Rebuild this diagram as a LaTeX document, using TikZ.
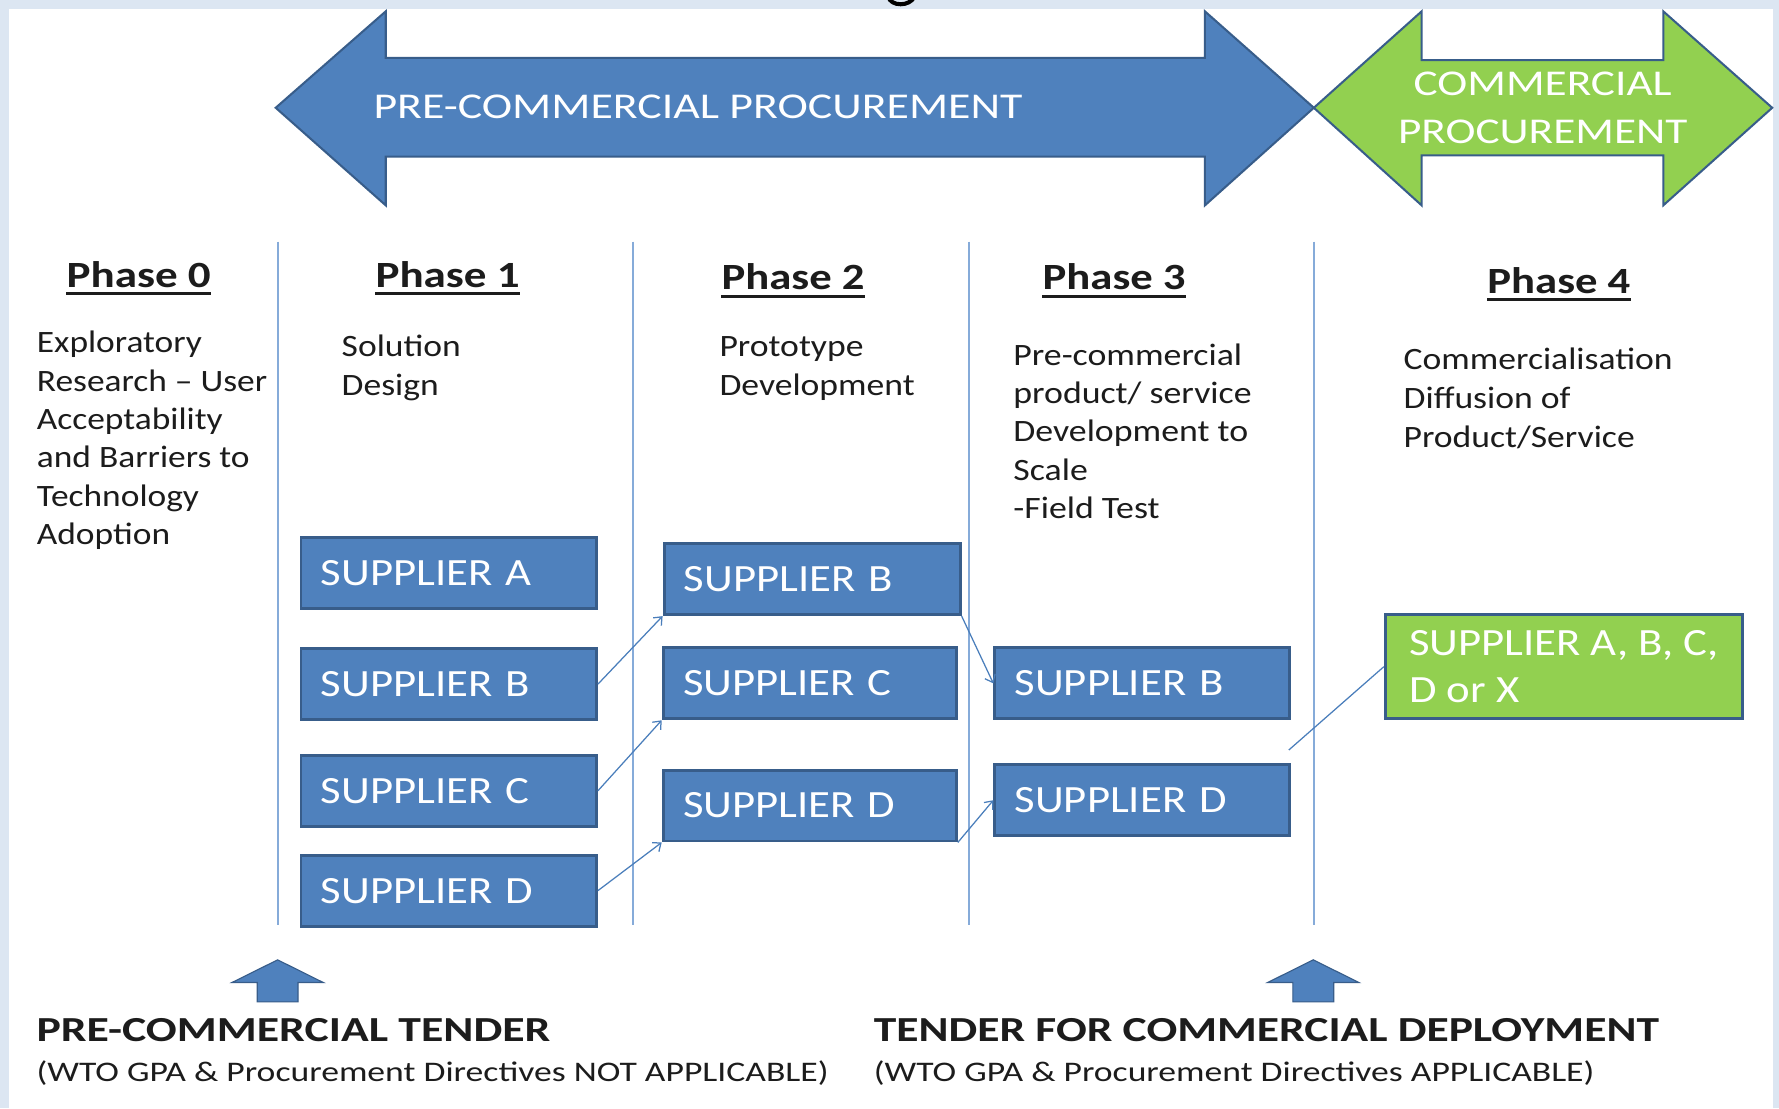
\documentclass[tikz,border=0pt]{standalone}
\usepackage{fontspec}
\usepackage{graphicx}
\setmainfont{Carlito}
\newfontfamily\supfam{Carlito}[FakeStretch=1.16]
\usetikzlibrary{arrows.meta}
\definecolor{bgc}{HTML}{DCE6F2}
\definecolor{pblue}{HTML}{4F81BD}
\definecolor{pdark}{HTML}{385D8A}
\definecolor{pgreen}{HTML}{92D050}
\definecolor{vlinec}{HTML}{86ABD9}
\definecolor{linkc}{HTML}{4A7EBB}
\definecolor{ink}{HTML}{1C1C1C}
\newcommand\fitw[2]{\resizebox{#1pt}{\height}{#2}}
\newcommand\fsz[2]{\fontsize{#1}{#2}\selectfont}
\begin{document}
\begin{tikzpicture}[x=1pt,y=-1pt,
  every node/.style={inner sep=0pt},
  sbox/.style={draw=pdark, line width=2.6pt, fill=pblue, text=white,
    font=\supfam\fsz{34}{42}, align=left, inner xsep=17.5pt,
    minimum height=62.5pt, anchor=center},
  gbox/.style={draw=pdark, line width=2.6pt, fill=pgreen, text=white,
    font=\supfam\fsz{34}{42}, align=left, inner xsep=0pt,
    minimum width=314.5pt, minimum height=91.4pt, anchor=center},
  desc/.style={anchor=west, text=ink},
  head/.style={anchor=base, text=ink, font=\bfseries\fsz{32.6}{36}},
  uline/.style={draw=ink, line width=2.6pt},
  link/.style={draw=linkc, line width=1.1pt, -{Straight Barb[length=6pt,width=10pt]}},
  plainlink/.style={draw=linkc, line width=1.1pt},
  bigarrow/.style={draw=pdark, line width=1.8pt, line join=miter},
  phaseline/.style={draw=vlinec, line width=1.8pt},
  uparrow/.style={fill=pblue, draw=pdark, line width=1pt},
  bottomhead/.style={anchor=west, text=ink, font=\bfseries\fsz{31}{31}},
  bottomnote/.style={anchor=west, text=ink, font=\fsz{25}{25}}
]
% background and frame
\fill[bgc] (0,0) rectangle (1568,977);
\fill[white] (7.6,7.5) rectangle (1563,977);
\useasboundingbox (0,0) rectangle (1568,977);

% fragment of a cut-off title glyph (descender only)
\begin{scope}
  \clip (770,0) rectangle (815,6);
  \draw[black, line width=3.6pt, line cap=round] (783,-3) .. controls (785,6) and (802,6) .. (806,-3);
\end{scope}

% big procurement arrows
\draw[bigarrow, fill=pblue] (243,95) -- (340,10) -- (340,51) -- (1062,51) -- (1062,10)
  -- (1158,95) -- (1062,181) -- (1062,138) -- (340,138) -- (340,181) -- cycle;
\draw[bigarrow, fill=pgreen] (1158,95) -- (1253,10) -- (1253,53) -- (1466,53) -- (1466,10)
  -- (1562,95) -- (1466,181) -- (1466,137) -- (1253,137) -- (1253,181) -- cycle;
\node[anchor=west, text=white, font=\fsz{32}{32}] (pcp) at (329,94)
  {\fitw{572}{PRE-COMMERCIAL PROCUREMENT}};
\node[anchor=center, text=white, font=\fsz{32}{42}] (cp) at (1359.7,96.8)
  {\fitw{255}{\begin{tabular}{@{}c@{}}COMMERCIAL\\PROCUREMENT\end{tabular}}};

% phase separators
\draw[phaseline] (244.7,213) -- (244.7,815);
\draw[phaseline] (558,213) -- (558,815);
\draw[phaseline] (854,213) -- (854,815);
\draw[phaseline] (1158,213) -- (1158,815);

% phase headings
\node[head] (h0) at (122.2,253) {\fitw{127}{Phase 0}};
\node[head] (h1) at (394.5,253) {\fitw{127}{Phase 1}};
\node[head] (h2) at (699,255.5) {\fitw{126}{Phase 2}};
\node[head] (h3) at (982,255.5) {\fitw{126}{Phase 3}};
\node[head] (h4) at (1374,258.5) {\fitw{126}{Phase 4}};
\foreach \h in {h0,h1,h2,h3,h4}
  \draw[uline] ([yshift=-5.5pt]\h.base west) -- ([yshift=-5.5pt]\h.base east);

% phase descriptions
\node[desc] (d0) at (32.3,388.7) {\fsz{27.4}{33.8}\fitw{203}{\begin{tabular}{@{}l@{}}Exploratory\\Research – User\\Acceptability\\and Barriers to\\Technology\\Adoption\end{tabular}}};
\node[desc] (d1) at (301,324.5) {\fsz{27.4}{35}\fitw{105}{\begin{tabular}{@{}l@{}}Solution\\Design\end{tabular}}};
\node[desc] (d2) at (634,324.5) {\fsz{27.4}{35}\fitw{172}{\begin{tabular}{@{}l@{}}Prototype\\Development\end{tabular}}};
\node[desc] (d3) at (893,382.8) {\fsz{27.4}{33.75}\fitw{210}{\begin{tabular}{@{}l@{}}Pre-commercial\\product/ service\\Development to\\Scale\\-Field Test\end{tabular}}};
\node[desc] (d4) at (1237,353.2) {\fsz{27.4}{34}\fitw{237}{\begin{tabular}{@{}l@{}}Commercialisation\\Diffusion of\\Product/Service\end{tabular}}};

% supplier boxes, phase 1
\node[sbox, text width=225.4pt] (p1a) at (395.5,505.2) {SUPPLIER A};
\node[sbox, text width=225.4pt] (p1b) at (395.5,603) {SUPPLIER B};
\node[sbox, text width=225.4pt] (p1c) at (395.5,697) {SUPPLIER C};
\node[sbox, text width=225.4pt] (p1d) at (395.5,785) {SUPPLIER D};
% phase 2
\node[sbox, text width=226pt] (p2b) at (715.8,510.5) {SUPPLIER B};
\node[sbox, text width=223.4pt] (p2c) at (713.7,602.3) {SUPPLIER C};
\node[sbox, text width=223.4pt] (p2d) at (713.7,710) {SUPPLIER D};
% phase 3
\node[sbox, text width=224.9pt] (p3b) at (1006.75,602.3) {SUPPLIER B};
\node[sbox, text width=224.9pt] (p3d) at (1006.75,705.3) {SUPPLIER D};
% phase 4
\node[gbox] (g4) at (1378.25,587.6) {SUPPLIER A, B, C,\\D or X};

% connectors
\draw[link] (p1b.east) -- (p2b.south west);
\draw[link] (p1c.east) -- (p2c.south west);
\draw[link] (p1d.east) -- (p2d.south west);
\draw[link] (p2b.south east) -- (p3b.west);
\draw[link] (p2d.south east) -- (p3d.west);
\coordinate (gstart) at (1136,661);
\draw[plainlink] (gstart) -- (g4.west);

% tender arrows
\draw[uparrow] (244.7,846) -- (285,866) -- (262.7,866) -- (262.7,883) -- (226.7,883)
  -- (226.7,866) -- (204.4,866) -- cycle;
\draw[uparrow] (1157.5,846) -- (1197.8,866) -- (1175.5,866) -- (1175.5,883) -- (1139.5,883)
  -- (1139.5,866) -- (1117.2,866) -- cycle;

% bottom texts
\node[bottomhead] (t1) at (32,908) {\fitw{453}{PRE-COMMERCIAL TENDER}};
\node[bottomnote] (n1) at (32,946) {\fitw{698}{(WTO GPA \& Procurement Directives NOT APPLICABLE)}};
\node[bottomhead] (t2) at (770,908) {\fitw{692}{TENDER FOR COMMERCIAL DEPLOYMENT}};
\node[bottomnote] (n2) at (770,946) {\fitw{635}{(WTO GPA \& Procurement Directives APPLICABLE)}};
\end{tikzpicture}
\end{document}
